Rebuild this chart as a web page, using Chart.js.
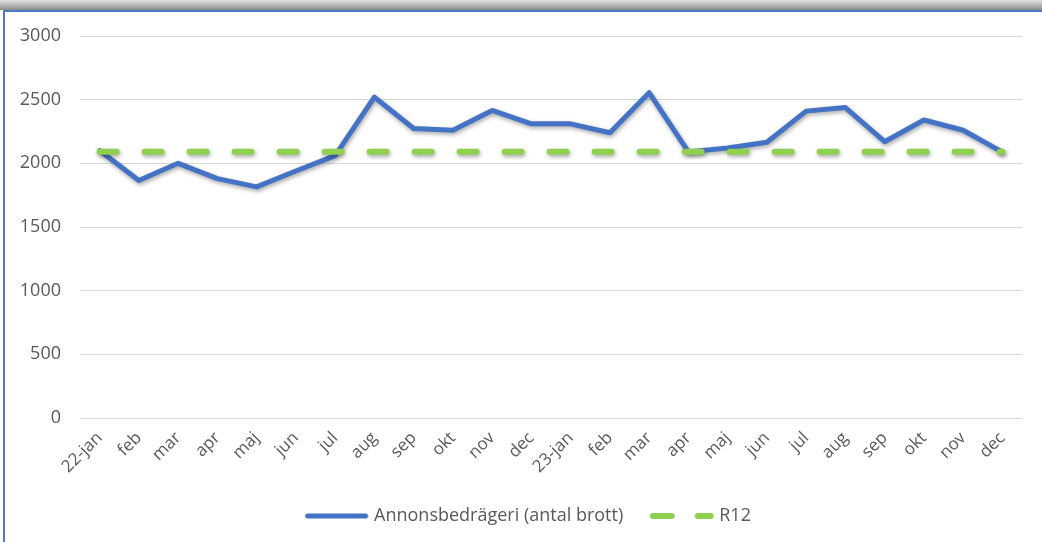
<!DOCTYPE html>
<html>
<head>
<meta charset="utf-8">
<script src="https://cdn.jsdelivr.net/npm/chart.js@4"></script>
<style>
  body { margin: 0; background: #fff; width: 1042px; height: 542px; overflow: hidden; position: relative; }
  #topbar { position: absolute; left: 0; top: 0; width: 1042px; height: 10px; background: linear-gradient(#e2e2e2, #8c8c8c); }
  #frame { position: absolute; left: 3px; top: 10px; width: 1045px; height: 540px; border-top: 2px solid #4a7cc6; border-left: 2px solid #4a7cc6; }
  #wrap { position: absolute; left: 5px; top: 12px; width: 1037px; height: 530px; }
</style>
</head>
<body>
<div id="topbar"></div>
<div id="frame"></div>
<div id="wrap"><canvas id="chart"></canvas></div>
<script>
// months, two years
const labels = ["22-jan", "feb", "mar", "apr", "maj", "jun", "jul", "aug", "sep", "okt", "nov", "dec",
                "23-jan", "feb", "mar", "apr", "maj", "jun", "jul", "aug", "sep", "okt", "nov", "dec"];
const annonsbedrageri = [2100, 1865, 2000, 1880, 1815, 1940, 2060, 2520, 2273, 2260, 2415, 2310,
                         2310, 2240, 2555, 2090, 2120, 2165, 2410, 2438, 2170, 2340, 2260, 2088];
const r12 = [2090, 2090, 2090, 2090, 2090, 2090, 2090, 2090, 2090, 2090, 2090, 2090,
             2090, 2090, 2090, 2090, 2090, 2090, 2090, 2090, 2090, 2090, 2090, 2090];
const yTicks = [0, 500, 1000, 1500, 2000, 2500, 3000];

const textColor = "#595959";
const fontFamily = "'Open Sans', sans-serif";
const blue = "#4472c4";
const green = "#8fd14f";

// small canvases used as legend samples (solid blue, dashed green)
const makeSample = (color, width, dash) => {
  const c = document.createElement("canvas");
  c.width = 66;
  c.height = 8;
  const g = c.getContext("2d");
  g.strokeStyle = color;
  g.lineWidth = width;
  g.lineCap = "round";
  g.setLineDash(dash);
  g.beginPath();
  g.moveTo(4, 4);
  g.lineTo(62, 4);
  g.stroke();
  return c;
};
const blueSample = makeSample(blue, 5, []);
const greenSample = makeSample(green, 6, [19, 26]);

// soft shadow under the lines
const shadowPlugin = {
  id: "lineShadow",
  beforeDatasetsDraw(chart) {
    const ctx = chart.ctx;
    ctx.save();
    ctx.shadowColor = "rgba(0,0,0,0.35)";
    ctx.shadowBlur = 4;
    ctx.shadowOffsetX = 1;
    ctx.shadowOffsetY = 2;
  },
  afterDatasetsDraw(chart) {
    chart.ctx.restore();
  },
};

// legend sits a bit right of the chart-area centre in the original
const legendShift = {
  id: "legendShift",
  afterLayout(chart) {
    chart.legend.left += 16;
    chart.legend.right += 16;
  },
};

const ctx = document.getElementById("chart").getContext("2d");
new Chart(ctx, {
  type: "line",
  data: {
    labels: labels,
    datasets: [
      {
        label: "Annonsbedrägeri (antal brott)",
        data: annonsbedrageri,
        borderColor: blue,
        backgroundColor: blue,
        borderWidth: 5,
        borderCapStyle: "round",
        borderJoinStyle: "round",
        pointRadius: 0,
        tension: 0,
        order: 2,
        pointStyle: blueSample,
      },
      {
        label: "R12",
        data: r12,
        borderColor: green,
        backgroundColor: green,
        borderWidth: 6,
        borderDash: [17, 28],
        borderCapStyle: "round",
        pointRadius: 0,
        tension: 0,
        order: 1,
        pointStyle: greenSample,
      },
    ],
  },
  plugins: [shadowPlugin, legendShift],
  options: {
    responsive: true,
    maintainAspectRatio: false,
    animation: false,
    layout: { padding: { top: 24, right: 20, left: 0, bottom: 7 } },
    scales: {
      x: {
        offset: true,
        grid: { display: false, drawTicks: false },
        border: { display: false },
        ticks: {
          color: textColor,
          font: { family: fontFamily, size: 17 },
          maxRotation: 45,
          minRotation: 45,
          autoSkip: false,
          padding: 10,
        },
        afterFit: (scale) => { scale.height = 59; },
      },
      y: {
        min: 0,
        max: 3000,
        afterBuildTicks: (scale) => { scale.ticks = yTicks.map((v) => ({ value: v })); },
        grid: { color: "#d9d9d9", lineWidth: 1, drawTicks: false },
        border: { display: false },
        ticks: {
          color: textColor,
          font: { family: fontFamily, size: 18 },
          padding: 19,
          callback: (v) => String(v),
        },
        afterFit: (scale) => {
          scale.width = 75;
          scale.paddingTop = 0;
          scale.paddingBottom = 0;
        },
      },
    },
    plugins: {
      legend: {
        position: "bottom",
        labels: {
          color: textColor,
          font: { family: fontFamily, size: 18 },
          usePointStyle: true,
          pointStyleWidth: 57,
          boxWidth: 57,
          padding: 30,
          sort: (a, b) => a.datasetIndex - b.datasetIndex,
        },
      },
      tooltip: { enabled: false },
    },
  },
});
</script>
</body>
</html>
